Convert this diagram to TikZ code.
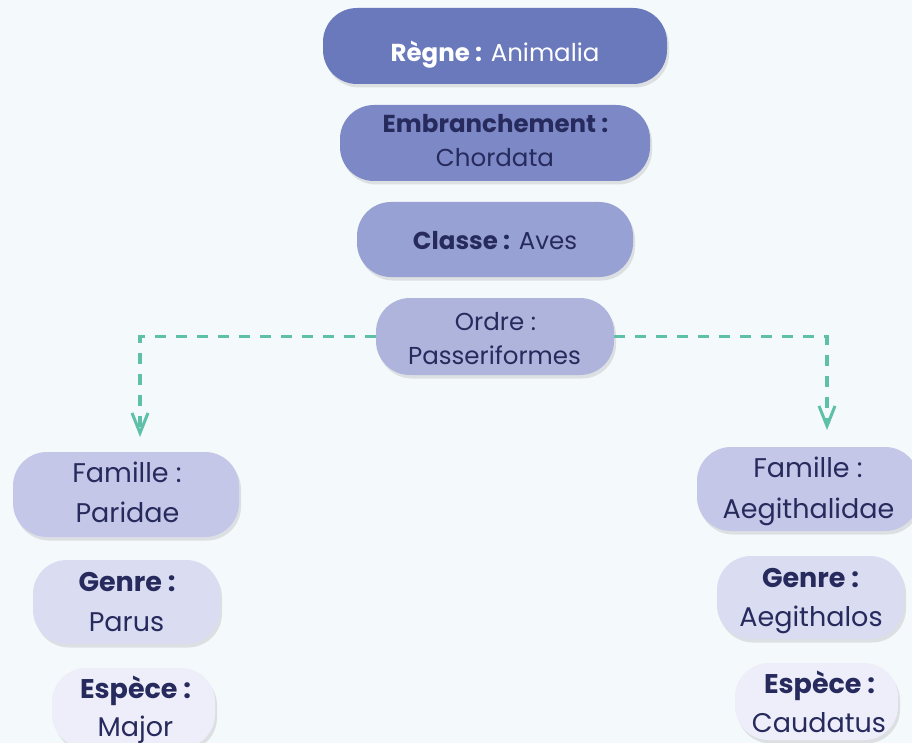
\documentclass[tikz,border=0pt]{standalone}
\usepackage{fontspec}
\setmainfont{Poppins}
\usetikzlibrary{arrows.meta,shadows}
\definecolor{bg}{RGB}{244,249,252}
\definecolor{ink}{RGB}{38,42,92}
\definecolor{cA}{RGB}{106,121,187}
\definecolor{cB}{RGB}{125,137,198}
\definecolor{cC}{RGB}{152,161,211}
\definecolor{cD}{RGB}{175,180,220}
\definecolor{cE}{RGB}{197,199,232}
\definecolor{cF}{RGB}{218,220,241}
\definecolor{cG}{RGB}{238,238,250}
\definecolor{teal}{RGB}{94,192,169}
\begin{document}
\begin{tikzpicture}[x=1pt,y=-1pt,
  box/.style={draw=none, rounded corners=34pt, inner sep=0pt,
    drop shadow={shadow xshift=2pt, shadow yshift=-3.5pt, opacity=0.14, fill=black!70}},
  txtS/.style={inner sep=0pt, anchor=base, text=ink, font=\fontsize{24.5}{29}\selectfont},
  txtL/.style={inner sep=0pt, anchor=base, text=ink, font=\fontsize{27}{32}\selectfont},
  conn/.style={draw=teal, line width=3.2pt, dash pattern=on 11pt off 10pt,
    -{Straight Barb[length=20pt,width=16pt,line width=3pt]}}]
\fill[bg] (0,0) rectangle (912,743);
\useasboundingbox (0,0) rectangle (912,743);
% boxes
\node[box, fill=cA, minimum width=344pt, minimum height=76pt] (regne) at (495,46) {};
\node[box, fill=cB, minimum width=310pt, minimum height=76pt] (embr) at (495,143) {};
\node[box, fill=cC, minimum width=276pt, minimum height=75pt] (classe) at (495,239.5) {};
\node[box, fill=cD, minimum width=238pt, minimum height=77pt] (ordre) at (495,336.5) {};
\node[box, fill=cE, minimum width=226pt, minimum height=85pt] (famL) at (126,494.5) {};
\node[box, fill=cF, minimum width=187pt, minimum height=84pt] (genL) at (126.5,602) {};
\node[box, fill=cG, minimum width=163pt, minimum height=80pt] (espL) at (133.5,708) {};
\node[box, fill=cE, minimum width=222pt, minimum height=84pt] (famR) at (808,489) {};
\node[box, fill=cF, minimum width=187pt, minimum height=83pt] (genR) at (810.5,597.5) {};
\node[box, fill=cG, minimum width=163pt, minimum height=77pt] (espR) at (816.5,701.5) {};
% texts
\node[txtS, text=white] (regneT) at (495,62) {\textbf{Règne :} Animalia};
\node[txtS] (embrT1) at (495.5,133) {\textbf{Embranchement :}};
\node[txtS] (embrT2) at (495,167) {Chordata};
\node[txtS] (classeT) at (495,250) {\textbf{Classe :} Aves};
\node[txtS] (ordreT1) at (495.5,330) {Ordre :};
\node[txtS] (ordreT2) at (494.5,364) {Passeriformes};
\node[txtL] (famLT1) at (127,482) {Famille :};
\node[txtL] (famLT2) at (127.5,522) {Paridae};
\node[txtL] (genLT1) at (127,591) {\textbf{Genre :}};
\node[txtL] (genLT2) at (126.5,631) {Parus};
\node[txtL] (espLT1) at (135.5,698) {\textbf{Espèce :}};
\node[txtL] (espLT2) at (135.5,736) {Major};
\node[txtL] (famRT1) at (808,477) {Famille :};
\node[txtL] (famRT2) at (808.5,518) {Aegithalidae};
\node[txtL] (genRT1) at (810.5,587) {\textbf{Genre :}};
\node[txtL] (genRT2) at (811,626) {Aegithalos};
\node[txtL] (espRT1) at (819.5,693) {\textbf{Espèce :}};
\node[txtL] (espRT2) at (819,732) {Caudatus};
% connectors
\coordinate (arL) at (140,437);
\coordinate (arR) at (827,430);
\draw[conn] (ordre.west) -| (arL);
\draw[conn] (ordre.east) -| (arR);
\end{tikzpicture}
\end{document}
